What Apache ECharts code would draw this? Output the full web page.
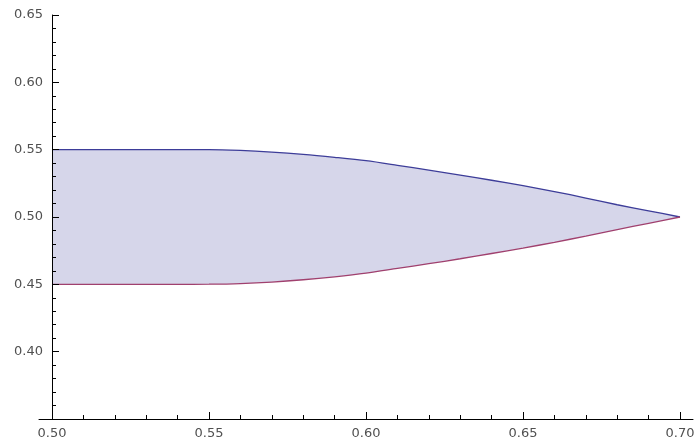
<!DOCTYPE html>
<html>
<head>
<meta charset="utf-8">
<script src="https://cdn.jsdelivr.net/npm/echarts@6/dist/echarts.min.js"></script>
<style>
html,body{margin:0;padding:0;background:#fff;}
#chart{width:698px;height:448px;}
</style>
</head>
<body>
<div id="chart"></div>
<script>
var xValues = [0.50,0.51,0.52,0.53,0.54,0.55,0.56,0.57,0.58,0.59,0.60,0.61,0.62,0.63,0.64,0.65,0.66,0.67,0.68,0.69,0.70];
var upperValues = [0.5500,0.5500,0.5500,0.5500,0.5500,0.5500,0.5494,0.5482,0.5465,0.5443,0.5418,0.5384,0.5348,0.5311,0.5273,0.5233,0.5189,0.5141,0.5091,0.5046,0.5000];
var lowerValues = [0.4500,0.4500,0.4500,0.4500,0.4500,0.4501,0.4506,0.4517,0.4534,0.4556,0.4583,0.4618,0.4653,0.4690,0.4729,0.4769,0.4812,0.4858,0.4906,0.4953,0.5000];
var xTickLabels = [0.50,0.55,0.60,0.65,0.70];
var xMinorTicks = [0.51,0.52,0.53,0.54,0.56,0.57,0.58,0.59,0.61,0.62,0.63,0.64,0.66,0.67,0.68,0.69];
var yTickLabels = [0.40,0.45,0.50,0.55,0.60,0.65];

var upperData = xValues.map(function(x,i){return [x, upperValues[i]];});
var lowerData = xValues.map(function(x,i){return [x, lowerValues[i]];});

var labelFont = {color:'#505050', fontFamily:'DejaVu Sans', fontSize:13};
var chart = echarts.init(document.getElementById('chart'));
chart.setOption({
  animation:false,
  grid:{left:39, right:5, top:15, bottom:29, containLabel:false},
  xAxis:[{
    type:'value', min:0.5 - 13/3140, max:0.7 + 13/3140, position:'bottom', z:5,
    axisLine:{show:true, onZero:false, lineStyle:{color:'#000', width:1}},
    axisTick:{show:true, inside:true, length:7, customValues:xTickLabels, lineStyle:{color:'#000'}},
    axisLabel:Object.assign({show:true, margin:8, customValues:xTickLabels, formatter:function(v){return v.toFixed(2);}}, labelFont),
    splitLine:{show:false}
  },{
    type:'value', min:0.5 - 13/3140, max:0.7 + 13/3140, position:'bottom', gridIndex:0, z:5,
    axisLine:{show:false, onZero:false},
    axisTick:{show:true, inside:true, length:4, customValues:xMinorTicks, lineStyle:{color:'#000'}},
    axisLabel:{show:false},
    splitLine:{show:false}
  }],
  yAxis:{
    type:'value', min:0.35, max:0.65, interval:0.05, offset:-13, z:5,
    axisLine:{show:true, onZero:false, lineStyle:{color:'#000', width:1}},
    axisTick:{show:true, inside:true, length:7, lineStyle:{color:'#000'}},
    minorTick:{show:true, splitNumber:5, length:4, lineStyle:{color:'#000'}},
    axisLabel:Object.assign({show:true, margin:9, customValues:yTickLabels, formatter:function(v){return v.toFixed(2);}}, labelFont),
    splitLine:{show:false}
  },
  series:[
    {type:'line', data:upperData, smooth:0.3, symbol:'none', z:1, lineStyle:{opacity:0}, areaStyle:{color:'#d6d6ea', opacity:1, origin:'start'}, silent:true},
    {type:'line', data:lowerData, smooth:0.3, symbol:'none', z:1, lineStyle:{opacity:0}, areaStyle:{color:'#ffffff', opacity:1, origin:'start'}, silent:true},
    {type:'line', data:upperData, smooth:0.3, symbol:'none', z:3, lineStyle:{color:'#3d3d99', width:1.3}},
    {type:'line', data:lowerData, smooth:0.3, symbol:'none', z:3, lineStyle:{color:'#a0406e', width:1.3}}
  ]
});
</script>
</body>
</html>
